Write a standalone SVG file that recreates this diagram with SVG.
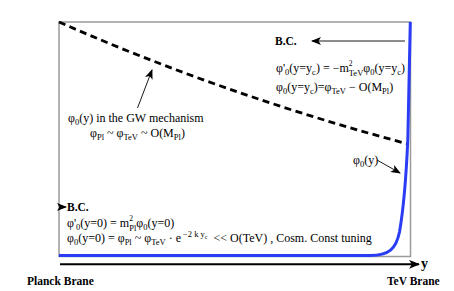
<svg xmlns="http://www.w3.org/2000/svg" width="454" height="291" viewBox="0 0 454 291">
<style>
text{font-family:"Liberation Serif","Times New Roman",serif;font-size:12px;fill:#000}
.b{font-weight:bold;font-size:11.5px}
.s{font-size:8.5px}
.sp{font-size:7.5px}
.frame{fill:none;stroke:#9a9a9a;stroke-width:1.5}
.dash{fill:none;stroke:#000;stroke-width:2.8;stroke-dasharray:7 4.5}
.blue{fill:none;stroke:#2b3cf5;stroke-width:3}
.thin{fill:none;stroke:#000;stroke-width:0.9}
.axis{fill:none;stroke:#000;stroke-width:2}
</style>
<defs>
<marker id="ah" viewBox="0 0 10 8" refX="9" refY="4" markerWidth="10" markerHeight="8" markerUnits="userSpaceOnUse" orient="auto">
<path d="M0,0 L10,4 L0,8 L2.5,4 Z" fill="#000"/>
</marker>
<marker id="ahx" viewBox="0 0 10 8" refX="9" refY="4" markerWidth="11" markerHeight="9" markerUnits="userSpaceOnUse" orient="auto">
<path d="M0,0 L10,4 L0,8 L2.5,4 Z" fill="#000"/>
</marker>
</defs>
<g id="frame">
<rect class="frame" x="59" y="22" width="351.5" height="234.5"/>
</g>
<g id="curves">
<path id="gw-curve" class="dash" d="M59,22 Q222,94 408,144"/>
<path id="phi-curve" class="blue" d="M59,255.5 L370,255.5 C389,255.5 396,249 399.5,232 C403,212 406,180 407.8,140 L410.3,22"/>
</g>
<g id="connectors">
<line class="thin" x1="405" y1="41" x2="312" y2="41" marker-end="url(#ah)"/>
<line class="thin" x1="137.5" y1="108" x2="152" y2="70" marker-end="url(#ah)"/>
<line class="thin" x1="377" y1="160" x2="400" y2="173" marker-end="url(#ah)"/>
<line class="thin" x1="59" y1="207" x2="66" y2="207" marker-end="url(#ah)"/>
<line class="axis" x1="60" y1="264.3" x2="419" y2="264.3" marker-end="url(#ahx)"/>
</g>
<g id="bc-tev">
<text class="b" x="275" y="45">B.C.</text>
<text x="276" y="72">φ'<tspan class="s" dy="3">0</tspan><tspan dy="-3">(y=y</tspan><tspan class="s" dy="3">c</tspan><tspan dy="-3">) = −m</tspan><tspan class="sp" dy="-6">2</tspan><tspan class="s" dx="-3.75" dy="9.5">TeV</tspan><tspan dy="-3.5">φ</tspan><tspan class="s" dy="3">0</tspan><tspan dy="-3">(y=y</tspan><tspan class="s" dy="3">c</tspan><tspan dy="-3">)</tspan></text>
<text x="276" y="91">φ<tspan class="s" dy="3">0</tspan><tspan dy="-3">(y=y</tspan><tspan class="s" dy="3">c</tspan><tspan dy="-3">)=φ</tspan><tspan class="s" dy="3">TeV</tspan><tspan dy="-3"> − O(M</tspan><tspan class="s" dy="3">Pl</tspan><tspan dy="-3">)</tspan></text>
</g>
<g id="gw-label">
<text x="68" y="122">φ<tspan class="s" dy="3">0</tspan><tspan dy="-3">(y) in the GW mechanism</tspan></text>
<text x="90" y="137">φ<tspan class="s" dy="3">Pl</tspan><tspan dy="-3"> ~ φ</tspan><tspan class="s" dy="3">TeV</tspan><tspan dy="-3"> ~ O(M</tspan><tspan class="s" dy="3">Pl</tspan><tspan dy="-3">)</tspan></text>
</g>
<g id="phi-label">
<text x="353" y="164">φ<tspan class="s" dy="3">0</tspan><tspan dy="-3">(y)</tspan></text>
</g>
<g id="bc-planck">
<text class="b" x="67" y="211">B.C.</text>
<text x="67" y="227">φ'<tspan class="s" dy="3">0</tspan><tspan dy="-3">(y=0) = m</tspan><tspan class="sp" dy="-6">2</tspan><tspan class="s" dx="-3.75" dy="9.5">Pl</tspan><tspan dy="-3.5">φ</tspan><tspan class="s" dy="3">0</tspan><tspan dy="-3">(y=0)</tspan></text>
<text x="67" y="242">φ<tspan class="s" dy="3">0</tspan><tspan dy="-3">(y=0) = φ</tspan><tspan class="s" dy="3">Pl</tspan><tspan dy="-3"> ~ φ</tspan><tspan class="s" dy="3">TeV</tspan><tspan dy="-3"> · e</tspan><tspan class="s" dx="2" dy="-5">−2 k y</tspan><tspan font-size="6" dy="2">c</tspan><tspan dx="3" dy="3"> &lt;&lt; O(TeV) , Cosm. Const tuning</tspan></text>
</g>
<g id="axis-labels">
<text class="b" x="421" y="268" style="font-size:14px">y</text>
<text class="b" x="27" y="285">Planck Brane</text>
<text class="b" x="387" y="285">TeV Brane</text>
</g>
</svg>
